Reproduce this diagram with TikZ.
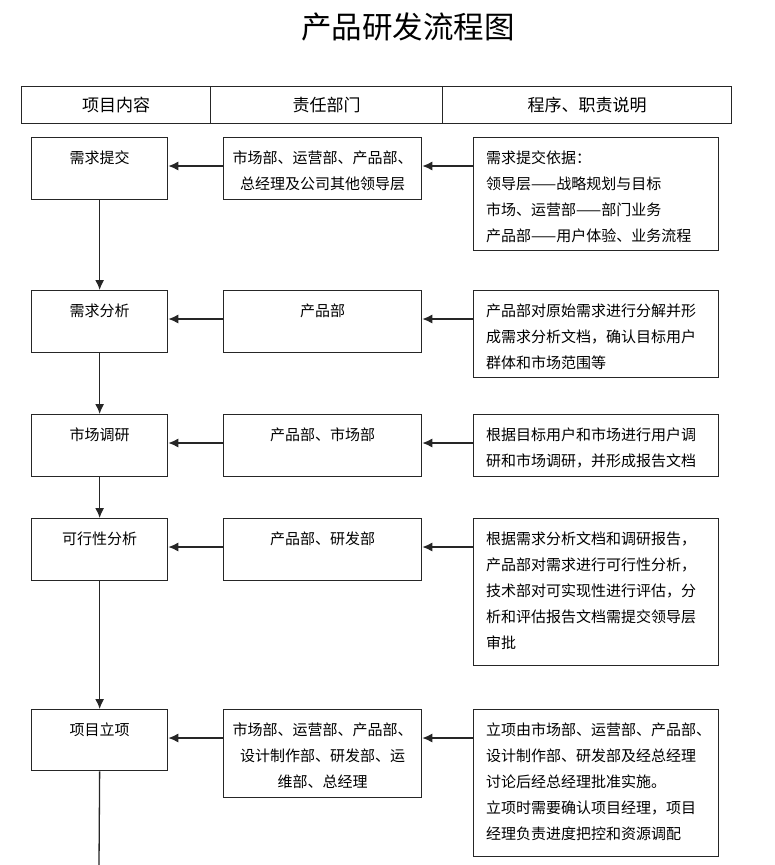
\documentclass[tikz,border=0pt]{standalone}
\usepackage{fontspec}
\setmainfont{Noto Sans CJK SC}
\usepackage{tikz}
\usetikzlibrary{arrows.meta}
\tikzstyle{arrow} = [line width=1.3pt,draw=black!85,-{Latex[length=10pt,width=9pt]}]
\tikzstyle{conn} = [line width=1.3pt,draw=black!85]
\tikzstyle{cell} = [draw=black!85,line width=1.3pt,anchor=north west,inner sep=0pt,minimum height=37pt,font=\fontsize{17}{20}\selectfont]
\tikzstyle{box} = [draw=black!85,line width=1.3pt,anchor=north west,inner sep=0pt]
\tikzstyle{txt} = [inner sep=0pt,font=\fontsize{15}{26}\selectfont]
\newcommand{\rtxt}[2]{\node[txt,align=left,anchor=north west] (#1) at ([xshift=13pt,yshift=-14pt]#2.north west) }

\begin{document}
\begin{tikzpicture}[x=1pt,y=-1pt]
\useasboundingbox (0,0) rectangle (775,865);
            \node (title) at (408,27) {\fontsize{30.5}{36}\selectfont 产品研发流程图};
 % header row
            \node[cell,minimum width=189pt] (h1) at (21,86) {项目内容};
            \node[cell,minimum width=232pt] (h2) at (210,86) {责任部门};
            \node[cell,minimum width=289pt] (h3) at (442,86) {程序、职责说明};
 % row 1
            \node[box,minimum width=136pt,minimum height=62pt] (l1) at (31,137) {};
            \node[box,minimum width=198pt,minimum height=62pt] (m1) at (223,137) {};
            \node[box,minimum width=245pt,minimum height=113pt] (r1) at (473,137) {};
            \node[txt,anchor=north] (l1t) at ([yshift=-14pt]l1.north) {需求提交};
            \node[txt,align=center,anchor=north] (m1t) at ([yshift=-14pt]m1.north) {市场部、运营部、产品部、\\总经理及公司其他领导层};
            \rtxt{r1t}{r1} {需求提交依据：\\领导层——战略规划与目标\\市场、运营部——部门业务\\产品部——用户体验、业务流程};
 % row 2
            \node[box,minimum width=136pt,minimum height=62pt] (l2) at (31,290) {};
            \node[box,minimum width=198pt,minimum height=62pt] (m2) at (223,290) {};
            \node[box,minimum width=245pt,minimum height=87pt] (r2) at (473,290) {};
            \node[txt,anchor=north] (l2t) at ([yshift=-14pt]l2.north) {需求分析};
            \node[txt,anchor=north] (m2t) at ([yshift=-14pt]m2.north) {产品部};
            \rtxt{r2t}{r2} {产品部对原始需求进行分解并形\\成需求分析文档，确认目标用户\\群体和市场范围等};
 % row 3
            \node[box,minimum width=136pt,minimum height=62pt] (l3) at (31,414) {};
            \node[box,minimum width=198pt,minimum height=62pt] (m3) at (223,414) {};
            \node[box,minimum width=245pt,minimum height=62pt] (r3) at (473,414) {};
            \node[txt,anchor=north] (l3t) at ([yshift=-14pt]l3.north) {市场调研};
            \node[txt,anchor=north] (m3t) at ([yshift=-14pt]m3.north) {产品部、市场部};
            \rtxt{r3t}{r3} {根据目标用户和市场进行用户调\\研和市场调研，并形成报告文档};
 % row 4
            \node[box,minimum width=136pt,minimum height=62pt] (l4) at (31,518) {};
            \node[box,minimum width=198pt,minimum height=62pt] (m4) at (223,518) {};
            \node[box,minimum width=245pt,minimum height=147pt] (r4) at (473,518) {};
            \node[txt,anchor=north] (l4t) at ([yshift=-14pt]l4.north) {可行性分析};
            \node[txt,anchor=north] (m4t) at ([yshift=-14pt]m4.north) {产品部、研发部};
            \rtxt{r4t}{r4} {根据需求分析文档和调研报告，\\产品部对需求进行可行性分析，\\技术部对可实现性进行评估，分\\析和评估报告文档需提交领导层\\审批};
 % row 5
            \node[box,minimum width=136pt,minimum height=61pt] (l5) at (31,709) {};
            \node[box,minimum width=198pt,minimum height=88pt] (m5) at (223,709) {};
            \node[box,minimum width=245pt,minimum height=147pt] (r5) at (473,709) {};
            \node[txt,anchor=north] (l5t) at ([yshift=-14pt]l5.north) {项目立项};
            \node[txt,align=center,anchor=north] (m5t) at ([yshift=-14pt]m5.north) {市场部、运营部、产品部、\\设计制作部、研发部、运\\维部、总经理};
            \rtxt{r5t}{r5} {立项由市场部、运营部、产品部、\\设计制作部、研发部及经总经理\\讨论后经总经理批准实施。\\立项时需要确认项目经理，项目\\经理负责进度把控和资源调配};
 % arrows
            \foreach \i in {1,...,5} {
              \draw[arrow] ([yshift=-29pt]r\i.north west) -- ([yshift=-29pt]m\i.north east);
              \draw[arrow] ([yshift=-29pt]m\i.north west) -- ([yshift=-29pt]l\i.north east);
            }
            \draw[arrow] (l1.south) -- (l2.north);
            \draw[arrow] (l2.south) -- (l3.north);
            \draw[arrow] (l3.south) -- (l4.north);
            \draw[arrow] (l4.south) -- (l5.north);
            \coordinate (down) at (99,865);
            \draw[conn] (l5.south) -- (down);
\end{tikzpicture}
\end{document}
